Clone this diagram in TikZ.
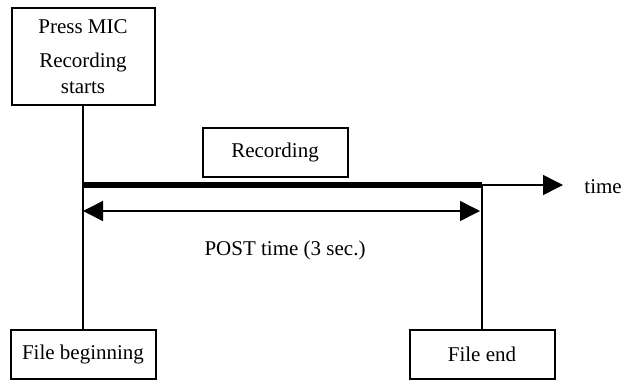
\documentclass[tikz,border=0pt]{standalone}
\usepackage{fontspec}
\setmainfont{Liberation Serif}
\usetikzlibrary{arrows.meta}

\begin{document}
\begin{tikzpicture}[x=0.5pt,y=-0.5pt,
  box/.style={draw, line width=1pt, inner sep=0pt, minimum width=72.5pt, minimum height=24.5pt,
    font=\fontsize{10.5}{13}\selectfont},
  lbl/.style={inner sep=0pt, font=\fontsize{10.5}{13}\selectfont},
  tip/.style={-{Triangle[length=10pt,width=10pt]}}]
\useasboundingbox (0,0) rectangle (624,381);

% boxes
\node[box, minimum width=71.5pt, minimum height=48.5pt, align=center] (mic) at (83,56.5) {Press MIC\\[4pt]Recording\\starts};
\node[box] (rec) at (275,152.5) {Recording};
\node[box] (fb) at (83,354.5) {File beginning};
\node[box] (fe) at (482,354.5) {File end};

% time axis
\coordinate (rs) at (83,185);
\coordinate (re) at (482,185);
\coordinate (tend) at (563,185);
\coordinate (ps) at (83,211);
\coordinate (pe) at (480,211);
\coordinate (mark) at (83,233);

\draw[line width=0.65pt] (mic.south) -- (fb.north);
\draw[line width=1.2pt] (rs) -- (mark);
\draw[line width=0.65pt] (re) -- (fe.north);
\draw[line width=2.6pt] (rs) -- (re);
\draw[line width=0.75pt, tip] (re) -- (tend);
\node[lbl, anchor=west] (time) at (584,187) {time};

% POST time
\draw[line width=0.75pt, {Triangle[length=10pt,width=10pt]}-{Triangle[length=10pt,width=10pt]}] (ps) -- (pe);
\node[lbl] (post) at (285,250) {POST time (3 sec.)};
\end{tikzpicture}
\end{document}
